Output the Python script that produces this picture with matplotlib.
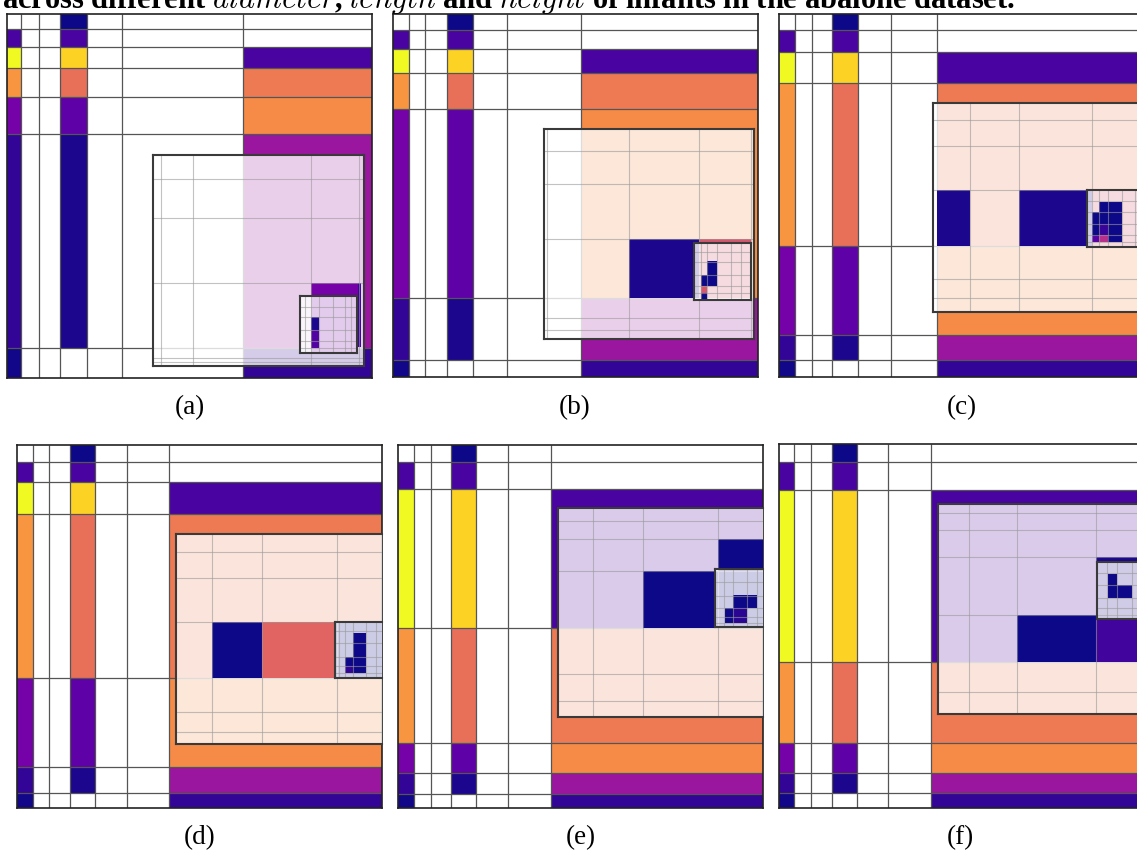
import matplotlib.pyplot as plt
import numpy as np
from matplotlib.patches import Rectangle

plt.rcParams['font.family'] = ['Liberation Serif', 'DejaVu Serif']
plt.rcParams['mathtext.fontset'] = 'cm'

LABELS = ['(a)', '(b)', '(c)', '(d)', '(e)', '(f)']

# colour value of each row in the three filled columns (nan = empty cell)
COL0_VALUES = [np.nan, 0.12, 1.0, 0.75, 0.23, 0.07, 0.01]
COL3_VALUES = [0.0, 0.12, 0.91, 0.64, 0.17, 0.02, np.nan]
COL6_VALUES = [np.nan, np.nan, 0.12, 0.67, 0.72, 0.33, 0.07]

# cell boundaries of each panel, 0..100 from left / from top
COL_EDGES = [
    [0, 3.8, 8.6, 14.4, 21.9, 31.5, 64.5, 100],
    [0, 4.2, 8.8, 14.7, 21.8, 31.1, 51.4, 100],
    [0, 4.3, 8.9, 14.6, 21.7, 30.6, 43.4, 100],
    [0, 4.2, 8.8, 14.4, 21.4, 30.1, 41.6, 100],
    [0, 4.3, 8.9, 14.4, 21.4, 30.1, 41.7, 100],
    [0, 4.1, 8.7, 14.4, 21.3, 29.9, 41.7, 100],
]
ROW_EDGES = [
    [0, 4.2, 9.0, 14.9, 22.7, 33.0, 91.7, 100],
    [0, 4.4, 9.6, 16.4, 26.1, 78.4, 95.4, 100],
    [0, 4.4, 10.4, 19.1, 64.0, 88.3, 95.4, 100],
    [0, 4.6, 10.3, 19.1, 64.2, 88.7, 95.9, 100],
    [0, 4.7, 12.2, 50.5, 82.2, 90.5, 96.3, 100],
    [0, 4.8, 12.6, 59.7, 82.1, 90.4, 95.9, 100],
]

# first zoom window (x0, x1, y0, y1) in panel units, its grid and filled cells
ZOOM_BOX = [
    (40.0, 97.8, 38.8, 96.8),
    (41.4, 99.1, 31.8, 89.7),
    (42.3, 99.7, 24.5, 82.1),
    (43.5, 101.0, 24.6, 82.3),
    (43.7, 101.1, 17.3, 75.1),
    (43.7, 101.4, 16.4, 74.1),
]
ZOOM_XLINES = [
    [3.5, 18.7, 74.7, 97.6],
    [1.3, 40.2, 73.5, 98.4],
    [17.7, 41.1, 75.9],
    [17.0, 40.9, 76.9],
    [16.7, 40.5, 76.6],
    [14.8, 37.6, 75.1],
]
ZOOM_YLINES = [
    [11.4, 30.0, 60.5, 96.4, 98.0],
    [10.2, 26.1, 52.4, 90.0, 95.6],
    [8.0, 20.7, 41.5, 84.0, 93.3],
    [8.3, 20.7, 41.6, 84.6, 94.1],
    [6.2, 15.1, 30.1, 79.1, 92.2],
    [4.4, 12.4, 25.4, 52.9, 89.4],
]
ZOOM_CELLS = [
    [(74.7, 97.0, 60.5, 94.0, 0.23), (97.0, 98.6, 60.5, 91.0, 0.08)],
    [(40.2, 73.5, 52.4, 80.5, 0.02), (73.5, 98.4, 52.4, 80.5, 0.55)],
    [(1.9, 17.7, 41.5, 68.6, 0.02), (41.1, 75.9, 41.5, 68.6, 0.02),
     (75.9, 100, 41.5, 68.6, 0.55)],
    [(17.0, 40.9, 41.6, 68.6, 0.0), (40.9, 75.5, 41.6, 68.6, 0.6),
     (75.5, 100, 41.6, 68.6, 0.0)],
    [(76.6, 100, 15.1, 30.1, 0.0), (40.5, 75.1, 30.1, 57.5, 0.0),
     (75.1, 100, 30.1, 57.5, 0.0)],
    [(37.6, 75.1, 52.9, 75.1, 0.0), (75.1, 100, 54.4, 75.1, 0.1),
     (75.1, 100, 25.4, 54.4, 0.02)],
]

# second zoom window, placed inside the first one
SUB_BOX = [
    (69.5, 96.8, 66.7, 94.0),
    (71.2, 98.2, 54.3, 81.3),
    (73.5, 100.5, 41.8, 68.9),
    (75.5, 102.2, 42.0, 68.7),
    (75.1, 101.8, 29.4, 56.8),
    (75.4, 102.4, 27.8, 54.8),
]
SUB_XLINES = [
    [9.5, 19.3, 34.1, 58.3, 78.4, 90.0],
    [11.7, 23.2, 40.7, 65.8, 83.2],
    [8.8, 21.7, 37.0, 61.7, 85.0],
    [7.7, 17.9, 33.3, 55.4, 73.2],
    [16.1, 32.7, 56.5, 74.4],
    [18.7, 36.3, 61.7, 85.0],
]
SUB_YLINES = [
    [19.3, 36.8, 60.2, 77.7, 90.5],
    [14.8, 32.5, 55.9, 75.3, 88.2],
    [18.9, 37.7, 60.0, 79.4, 90.7],
    [16.1, 36.8, 61.8, 78.6, 90.5],
    [22.1, 45.9, 67.9, 83.4, 93.0],
    [18.7, 39.3, 62.8, 80.4, 92.0],
]
SUB_CELLS = [
    [(19.3, 34.1, 36.8, 60.2, 0.02), (19.3, 34.1, 60.2, 90.5, 0.14)],
    [(23.2, 40.7, 30.7, 75.3, 0.0), (11.7, 23.2, 55.9, 75.3, 0.0),
     (11.7, 23.2, 75.3, 88.2, 0.55), (11.7, 23.2, 88.2, 100, 0.0)],
    [(21.7, 61.7, 20.1, 60.0, 0.0), (37.0, 61.7, 60.0, 90.7, 0.0),
     (8.8, 21.7, 37.7, 80.0, 0.0), (21.7, 37.0, 60.0, 79.4, 0.08),
     (21.7, 37.0, 79.4, 90.7, 0.42), (8.8, 21.7, 80.0, 90.7, 0.15)],
    [(33.3, 55.4, 19.0, 90.5, 0.0), (17.9, 33.3, 61.8, 78.6, 0.0),
     (17.9, 33.3, 78.6, 90.5, 0.06)],
    [(32.7, 75.5, 44.1, 67.9, 0.0), (17.9, 32.7, 67.9, 93.6, 0.0),
     (32.7, 56.5, 67.9, 93.6, 0.05)],
    [(20.5, 35.3, 20.5, 62.8, 0.0), (36.3, 61.7, 39.3, 62.8, 0.0)],
]

W, H = 1137, 858
# panel boxes in pixels: left, top, width, height
PANEL_PX = [(7.3, 14, 364.7, 363.7), (393.3, 14, 364.4, 362.7), (779.3, 14, 364, 363),
            (17.3, 445, 365, 363.3), (398.3, 445, 365, 362.7), (779.3, 444.3, 364, 364)]
LABEL_PX = [(190, 408), (575, 408), (962, 408), (200, 838), (581, 838), (960, 838)]

cmap = plt.get_cmap('plasma')
fig = plt.figure(figsize=(W / 100, H / 100), dpi=100)


def style(ax, color, lw):
    ax.set_xticks([])
    ax.set_yticks([])
    for s in ax.spines.values():
        s.set_color(color)
        s.set_linewidth(lw)


def zoom_window(parent, box, alpha=0.8):
    x0, x1, y0, y1 = box
    lo, hi = parent.get_xlim()
    xr = min(x1, hi)
    sub = parent.inset_axes([(x0 - lo) / (hi - lo), 1 - y1 / 100,
                             (xr - x0) / (hi - lo), (y1 - y0) / 100])
    sub.set_xlim(0, 100 * (xr - x0) / (x1 - x0))
    sub.set_ylim(100, 0)
    sub.set_facecolor((1, 1, 1, alpha))
    style(sub, '#3a3a3a', 1.5)
    if xr < x1:
        sub.spines['right'].set_visible(False)
    return sub


def fill_window(ax, xlines, ylines, cells):
    for x0, x1, y0, y1, v in cells:
        ax.add_patch(Rectangle((x0, y0), x1 - x0, y1 - y0, facecolor=cmap(v),
                               edgecolor='none', zorder=1))
    ax.vlines(xlines, 0, 100, colors='#9a9a9a', lw=0.8, alpha=0.6, zorder=2)
    ax.hlines(ylines, 0, 100, colors='#9a9a9a', lw=0.8, alpha=0.6, zorder=2)


empty = [np.nan] * 7
values = np.ma.masked_invalid(
    np.array([COL0_VALUES, empty, empty, COL3_VALUES, empty, empty, COL6_VALUES]).T)

for i in range(6):
    l, t, w, h = PANEL_PX[i]
    ax = fig.add_axes([l / W, 1 - (t + h) / H, w / W, h / H])
    xe, ye = COL_EDGES[i], ROW_EDGES[i]
    ax.pcolormesh(xe, ye, values, cmap=cmap, vmin=0, vmax=1)
    ax.vlines(xe[1:-1], 0, 100, colors='#555555', lw=0.9)
    ax.hlines(ye[1:-1], 0, 100, colors='#555555', lw=0.9)
    ax.set_xlim(0, 100)
    ax.set_ylim(100, 0)
    style(ax, '#222222', 1.2)

    z1 = zoom_window(ax, ZOOM_BOX[i])
    fill_window(z1, ZOOM_XLINES[i], ZOOM_YLINES[i], ZOOM_CELLS[i])
    z2 = zoom_window(z1, SUB_BOX[i])
    fill_window(z2, SUB_XLINES[i], SUB_YLINES[i], SUB_CELLS[i])

    lx, ly = LABEL_PX[i]
    fig.text(lx / W, 1 - ly / H, LABELS[i], fontsize=19.5, ha='center', va='center')

fig.text(1015 / W, 1 - 7.5 / H,
         r'across different $diameter$, $length$ and $height$ of infants in the abalone dataset.',
         fontsize=22, fontweight='bold', ha='right', va='baseline')

fig.savefig('out.png', dpi=100)
